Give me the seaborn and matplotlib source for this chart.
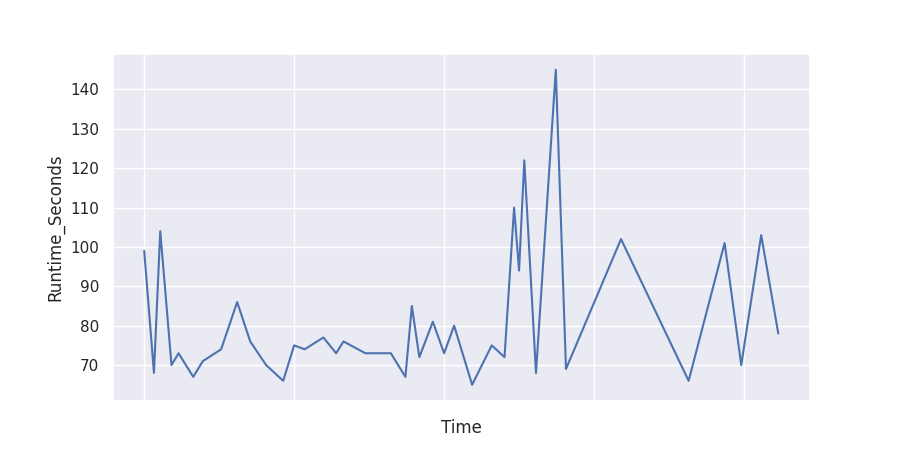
import matplotlib
matplotlib.use("Agg")
import matplotlib.pyplot as plt
import seaborn as sns
import pandas as pd

time = [0.0, 0.065, 0.107, 0.182, 0.229, 0.327, 0.391, 0.513, 0.62, 0.707,
        0.813, 0.927, 1.0, 1.07, 1.195, 1.28, 1.329, 1.475, 1.645, 1.742,
        1.785, 1.835, 1.925, 2.0, 2.067, 2.187, 2.318, 2.403, 2.467, 2.5,
        2.535, 2.613, 2.745, 2.813, 3.18, 3.631, 3.871, 3.982, 4.115, 4.229]
runtime = [99, 68, 104, 70, 73, 67, 71, 74, 86, 76,
           70, 66, 75, 74, 77, 73, 76, 73, 73, 67,
           85, 72, 81, 73, 80, 65, 75, 72, 110, 94,
           122, 68, 145, 69, 102, 66, 101, 70, 103, 78]
tick_positions = [0, 1, 2, 3, 4]

sns.set_theme(style="darkgrid")
df = pd.DataFrame({"Time": time, "Runtime_Seconds": runtime})

fig, ax = plt.subplots(figsize=(9, 4.5), dpi=100)
sns.lineplot(data=df, x="Time", y="Runtime_Seconds", ax=ax)
ax.set_xticks(tick_positions)
ax.set_xticklabels([""] * len(tick_positions))
fig.savefig("out.png")
